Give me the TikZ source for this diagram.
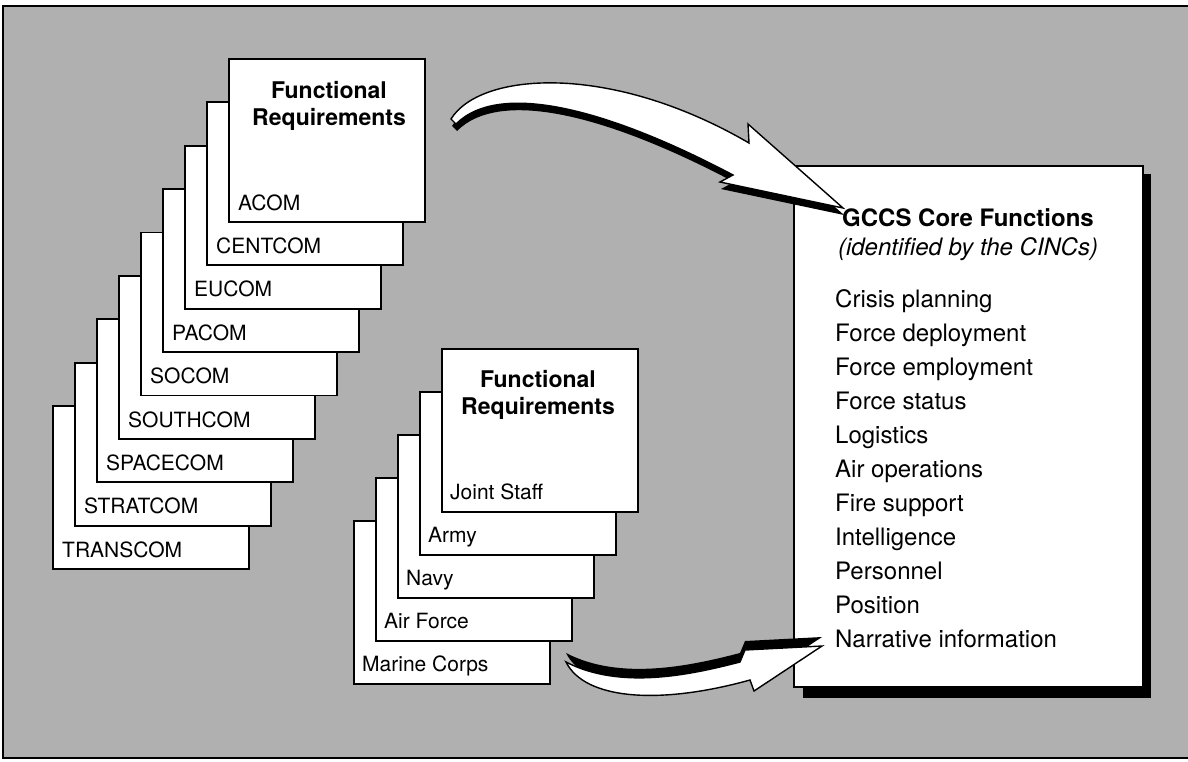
\documentclass[tikz,border=0pt]{standalone}
\usepackage{fontspec}
\setmainfont{TeX Gyre Heros}
\begin{document}
\begin{tikzpicture}[x=1pt,y=-1pt,
  card/.style={draw=black,line width=1.8pt,fill=white,anchor=north west,minimum width=196pt,minimum height=163pt,inner sep=0pt},
  lbl/.style={anchor=base west,inner sep=0pt,font=\fontsize{21}{25}\selectfont},
  head/.style={anchor=base,inner sep=0pt,font=\fontsize{23}{27}\selectfont\bfseries},
  item/.style={anchor=base west,inner sep=0pt,font=\fontsize{24}{28}\selectfont},
  arrowbody/.style={fill=white,draw=black,line width=1.4pt,line join=miter},
  shade/.style={fill=black}]
\useasboundingbox (0,0) rectangle (1188,761);
\fill[white] (0,0) rectangle (1188,761);
\fill[black!31] (3,6) rectangle (1195,758);
\draw[line width=2pt] (1195,6) -- (3,6) -- (3,758) -- (1195,758);

% left stack
\foreach \i/\nm in {8/TRANSCOM,7/STRATCOM,6/SPACECOM,5/SOUTHCOM,4/SOCOM,3/PACOM,2/EUCOM,1/CENTCOM,0/ACOM}{
  \node[card] (L\i) at ({228-22*\i},{58+43.4*\i}) {};
  \node[lbl] (LT\i) at ({238-22*\i},{210+43.4*\i}) {\nm};
}
\node[head] (LH1) at (329,98) {Functional};
\node[head] (LH2) at (329,125) {Requirements};

% middle stack
\foreach \i/\nm in {4/Marine Corps,3/Air Force,2/Navy,1/Army,0/Joint Staff}{
  \node[card] (M\i) at ({441-22*\i},{348+43*\i}) {};
  \node[lbl] (MT\i) at ({450-22*\i},{499+43*\i}) {\nm};
}
\node[head] (MH1) at (538,387) {Functional};
\node[head] (MH2) at (538,414) {Requirements};

% GCCS box
\fill[shade] (803,174) rectangle (1151,698);
\node[draw=black,line width=1.8pt,fill=white,anchor=north west,minimum width=349pt,minimum height=521pt,inner sep=0pt] (G) at (793,165) {};
\node[anchor=base,inner sep=0pt,font=\fontsize{24}{28}\selectfont\bfseries] (GT) at (968,226) {GCCS Core Functions};
\node[anchor=base,inner sep=0pt,font=\fontsize{24}{28}\selectfont\itshape] (GS) at (968,255) {(identified by the CINCs)};
\foreach \k/\nm in {0/Crisis planning,1/Force deployment,2/Force employment,3/Force status,4/Logistics,5/Air operations,6/Fire support,7/Intelligence,8/Personnel,9/Position,10/Narrative information}{
  \node[item] (I\k) at (835,{307+34*\k}) {\nm};
}

% top arrow
\def\toparrow{(451,119) .. controls (480,72) and (610,62) .. (749,143) -- (748,124) -- (843,208) -- (720,182) -- (733,175) .. controls (610,110) and (500,80) .. (456,124) -- cycle}
\fill[shade,shift={(1,7)}] \toparrow;
\draw[arrowbody] \toparrow;

% bottom arrow
\def\botarrow{(566,662) .. controls (585,700) and (660,705) .. (750,680) -- (754,691) -- (822,646) -- (745,650) -- (740,662) .. controls (690,675) and (620,690) .. (566,662) -- cycle}
\fill[shade,shift={(0,-9)}] \botarrow;
\draw[arrowbody] \botarrow;
\end{tikzpicture}
\end{document}
